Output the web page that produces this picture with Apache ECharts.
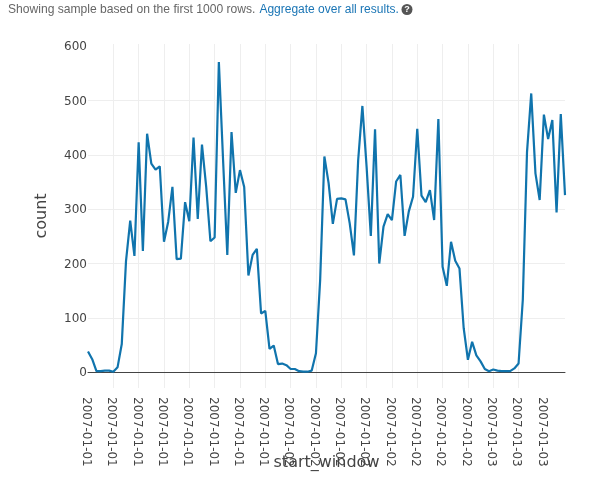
<!DOCTYPE html>
<html>
<head>
<meta charset="utf-8">
<style>html,body{margin:0;padding:0;background:#fff}#c{width:592px;height:485px}</style>
<script src="https://cdn.jsdelivr.net/npm/echarts@6/dist/echarts.min.js"></script>
</head>
<body>
<div id="c"></div>
<script>
const days = ['2007-01-01', '2007-01-02', '2007-01-03'];
const halfHours = 114;
const counts = [
  38,24,2,2,3,3,1,9,52,204,279,214,423,223,439,384,373,379,240,277,
  341,208,209,313,278,432,282,419,341,241,248,571,390,216,442,330,372,341,178,216,
  227,108,113,43,49,15,16,13,6,6,2,1,1,3,35,170,397,348,273,319,
  320,318,274,215,390,490,378,251,447,200,268,291,280,351,363,251,296,323,448,325,
  313,335,280,466,194,159,240,205,191,81,23,56,31,20,6,2,5,3,2,2,
  2,7,16,133,405,513,366,317,474,429,464,294,475,326
];
const yTicks = [0, 100, 200, 300, 400, 500, 600];
const noteText = 'Showing sample based on the first 1000 rows.';
const linkText = 'Aggregate over all results.';

const pad = n => String(n).padStart(2, '0');
const categories = [];
for (let i = 0; i < halfHours; i++) {
  const d = days[Math.floor(i / 48)];
  const h = Math.floor((i % 48) / 2);
  categories.push(d + ' ' + pad(h) + ':' + (i % 2 ? '30' : '00') + ':00');
}

const font = '"DejaVu Sans"';
const chart = echarts.init(document.getElementById('c'), null, {renderer: 'canvas'});
chart.setOption({
  animation: false,
  backgroundColor: '#fff',
  title: {
    left: 8, top: 4, padding: 0,
    text: '{a|' + noteText + '}{b|' + linkText + '}',
    textStyle: {
      rich: {
        a: {fontFamily: '"Liberation Sans"', fontSize: 12.1, color: '#666', fontWeight: 'normal', padding: [0, 4, 0, 0]},
        b: {fontFamily: '"Liberation Sans"', fontSize: 12, color: '#1a75b5', fontWeight: 'normal'}
      }
    }
  },
  graphic: [
    {type: 'circle', shape: {cx: 407, cy: 9.5, r: 5.5}, style: {fill: '#555'}, silent: true},
    {type: 'text', x: 407, y: 9.5, silent: true,
      style: {text: '?', fill: '#fff', font: 'bold 9px "Liberation Sans"', align: 'center', verticalAlign: 'middle'}}
  ],
  grid: {left: 88, right: 27, top: 44, bottom: 97, containLabel: false, outerBoundsMode: 'none'},
  xAxis: {
    type: 'category',
    data: categories,
    boundaryGap: false,
    name: 'start_window',
    nameLocation: 'middle',
    nameGap: 67,
    nameMoveOverlap: false,
    nameTextStyle: {fontFamily: font, fontSize: 16, color: '#444'},
    axisLine: {onZero: true, lineStyle: {color: '#444', width: 1}},
    axisTick: {show: false},
    axisLabel: {
      interval: 5, rotate: -90, margin: 9,
      fontFamily: font, fontSize: 12, color: '#444',
      width: 72, overflow: 'truncate', ellipsis: '',
      verticalAlign: 'top', lineHeight: 4,
      hideOverlap: false
    },
    splitLine: {show: true, interval: 5, showMinLine: false, showMaxLine: false, lineStyle: {color: '#eee', width: 1}}
  },
  yAxis: {
    type: 'value',
    min: -29, max: 604,
    name: 'count',
    nameLocation: 'middle',
    nameRotate: 90,
    nameGap: 38,
    nameMoveOverlap: false,
    nameTextStyle: {fontFamily: font, fontSize: 16, color: '#444'},
    axisLine: {show: false},
    axisTick: {show: false, customValues: yTicks},
    axisLabel: {customValues: yTicks, margin: 1, verticalAlign: 'top', lineHeight: 2, fontFamily: font, fontSize: 12, color: '#444'},
    splitLine: {show: true, showMinLine: false, showMaxLine: false, lineStyle: {color: '#eee', width: 1}}
  },
  series: [{
    type: 'line',
    data: counts,
    showSymbol: false,
    symbol: 'none',
    smooth: false,
    lineStyle: {color: '#1074ad', width: 2.2},
    clip: true
  }]
});
</script>
</body>
</html>
